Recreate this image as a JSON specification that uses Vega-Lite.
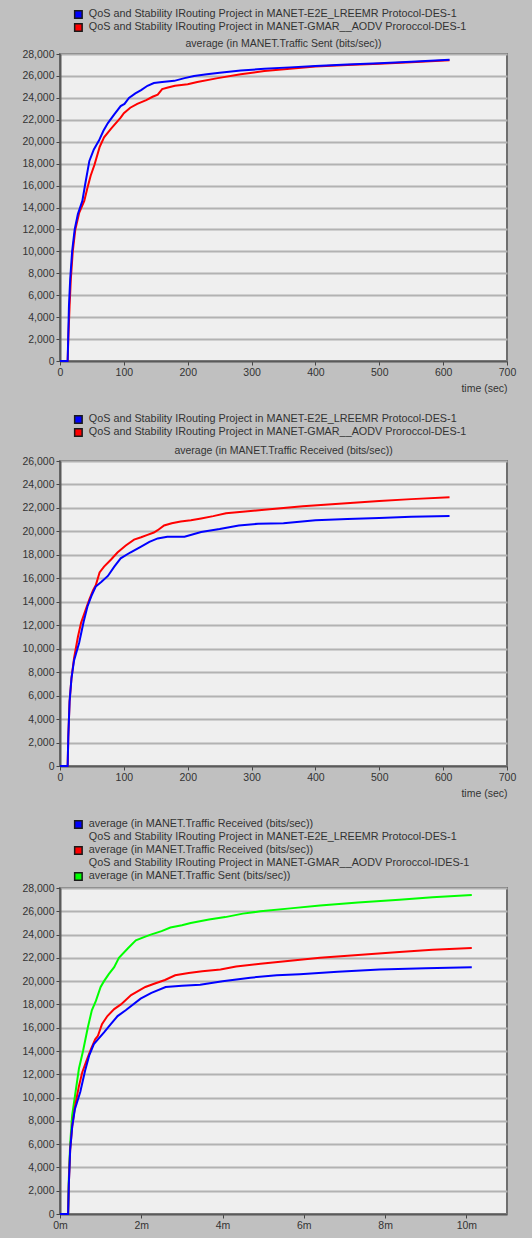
{
  "$schema": "https://vega.github.io/schema/vega-lite/v6.json",
  "background": "#c0c0c0",
  "padding": {"left": 20, "top": 8, "right": 18, "bottom": 6},
  "config": {
    "font": "Liberation Sans",
    "view": {"fill": "#efefef", "stroke": "#6e6e6e", "strokeWidth": 2},
    "axis": {"labelFont": "Liberation Sans", "labelFontSize": 10.5, "labelColor": "#333333", "tickColor": "#444444", "tickSize": 4, "labelPadding": 2, "domainColor": "#5a5a5a", "domainWidth": 2, "gridColor": "#b2b2b2", "gridWidth": 2, "titleFont": "Liberation Sans", "titleFontSize": 10.5, "titleFontWeight": "normal", "titleColor": "#333333", "labelFlush": false, "labelOverlap": false},
    "legend": {"labelFont": "Liberation Sans", "labelFontSize": 10.8, "labelColor": "#333333", "symbolSize": 56, "symbolType": "square", "labelLimit": 0, "rowPadding": -5.5, "labelOffset": 5},
    "title": {"font": "Liberation Sans", "fontSize": 10.5, "fontWeight": "normal", "color": "#333333", "frame": "group"},
    "concat": {"spacing": 18}
  },
  "datasets": {
    "sent": [
      {"s":"GMAR","t":0,"v":0},{"s":"GMAR","t":12,"v":0},{"s":"GMAR","t":13,"v":2000},{"s":"GMAR","t":15,"v":5000},{"s":"GMAR","t":17,"v":7500},{"s":"GMAR","t":20,"v":10000},{"s":"GMAR","t":24,"v":12000},{"s":"GMAR","t":30,"v":13500},{"s":"GMAR","t":38,"v":14600},{"s":"GMAR","t":43,"v":15800},{"s":"GMAR","t":48,"v":16900},{"s":"GMAR","t":54,"v":17900},{"s":"GMAR","t":62,"v":19500},{"s":"GMAR","t":69,"v":20400},{"s":"GMAR","t":80,"v":21200},{"s":"GMAR","t":95,"v":22200},{"s":"GMAR","t":100,"v":22600},{"s":"GMAR","t":110,"v":23100},{"s":"GMAR","t":121,"v":23450},{"s":"GMAR","t":135,"v":23800},{"s":"GMAR","t":145,"v":24100},{"s":"GMAR","t":153,"v":24300},{"s":"GMAR","t":160,"v":24800},{"s":"GMAR","t":169,"v":24950},{"s":"GMAR","t":180,"v":25100},{"s":"GMAR","t":200,"v":25250},{"s":"GMAR","t":215,"v":25450},{"s":"GMAR","t":247,"v":25800},{"s":"GMAR","t":283,"v":26150},{"s":"GMAR","t":320,"v":26450},{"s":"GMAR","t":360,"v":26650},{"s":"GMAR","t":400,"v":26850},{"s":"GMAR","t":450,"v":27000},{"s":"GMAR","t":500,"v":27100},{"s":"GMAR","t":550,"v":27250},{"s":"GMAR","t":610,"v":27430},
      {"s":"E2E","t":0,"v":0},{"s":"E2E","t":12,"v":0},{"s":"E2E","t":13,"v":2500},{"s":"E2E","t":14,"v":5000},{"s":"E2E","t":16,"v":7500},{"s":"E2E","t":19,"v":10000},{"s":"E2E","t":23,"v":12000},{"s":"E2E","t":28,"v":13400},{"s":"E2E","t":35,"v":14600},{"s":"E2E","t":40,"v":16300},{"s":"E2E","t":46,"v":18250},{"s":"E2E","t":53,"v":19300},{"s":"E2E","t":61,"v":20100},{"s":"E2E","t":68,"v":21000},{"s":"E2E","t":75,"v":21700},{"s":"E2E","t":85,"v":22500},{"s":"E2E","t":95,"v":23250},{"s":"E2E","t":101,"v":23450},{"s":"E2E","t":108,"v":24000},{"s":"E2E","t":118,"v":24400},{"s":"E2E","t":127,"v":24700},{"s":"E2E","t":137,"v":25100},{"s":"E2E","t":147,"v":25350},{"s":"E2E","t":160,"v":25450},{"s":"E2E","t":179,"v":25550},{"s":"E2E","t":195,"v":25800},{"s":"E2E","t":210,"v":26000},{"s":"E2E","t":230,"v":26150},{"s":"E2E","t":250,"v":26300},{"s":"E2E","t":283,"v":26500},{"s":"E2E","t":320,"v":26650},{"s":"E2E","t":360,"v":26780},{"s":"E2E","t":400,"v":26900},{"s":"E2E","t":450,"v":27050},{"s":"E2E","t":500,"v":27150},{"s":"E2E","t":550,"v":27300},{"s":"E2E","t":610,"v":27480}
    ],
    "recv": [
      {"s":"GMAR","t":0,"v":0},{"s":"GMAR","t":12,"v":0},{"s":"GMAR","t":13,"v":2500},{"s":"GMAR","t":15,"v":5500},{"s":"GMAR","t":18,"v":7500},{"s":"GMAR","t":22,"v":9200},{"s":"GMAR","t":28,"v":11000},{"s":"GMAR","t":33,"v":12200},{"s":"GMAR","t":40,"v":13300},{"s":"GMAR","t":46,"v":14200},{"s":"GMAR","t":52,"v":15000},{"s":"GMAR","t":56,"v":15400},{"s":"GMAR","t":62,"v":16500},{"s":"GMAR","t":69,"v":17000},{"s":"GMAR","t":80,"v":17600},{"s":"GMAR","t":90,"v":18200},{"s":"GMAR","t":103,"v":18800},{"s":"GMAR","t":116,"v":19300},{"s":"GMAR","t":127,"v":19500},{"s":"GMAR","t":137,"v":19700},{"s":"GMAR","t":147,"v":19900},{"s":"GMAR","t":153,"v":20100},{"s":"GMAR","t":163,"v":20500},{"s":"GMAR","t":175,"v":20700},{"s":"GMAR","t":189,"v":20850},{"s":"GMAR","t":205,"v":20950},{"s":"GMAR","t":221,"v":21100},{"s":"GMAR","t":240,"v":21300},{"s":"GMAR","t":260,"v":21550},{"s":"GMAR","t":290,"v":21700},{"s":"GMAR","t":320,"v":21850},{"s":"GMAR","t":350,"v":22000},{"s":"GMAR","t":380,"v":22150},{"s":"GMAR","t":420,"v":22300},{"s":"GMAR","t":460,"v":22450},{"s":"GMAR","t":500,"v":22600},{"s":"GMAR","t":550,"v":22750},{"s":"GMAR","t":610,"v":22900},
      {"s":"E2E","t":0,"v":0},{"s":"E2E","t":12,"v":0},{"s":"E2E","t":13,"v":2500},{"s":"E2E","t":15,"v":5500},{"s":"E2E","t":18,"v":7500},{"s":"E2E","t":22,"v":9000},{"s":"E2E","t":30,"v":10500},{"s":"E2E","t":37,"v":12300},{"s":"E2E","t":43,"v":13600},{"s":"E2E","t":50,"v":14600},{"s":"E2E","t":56,"v":15300},{"s":"E2E","t":65,"v":15700},{"s":"E2E","t":75,"v":16200},{"s":"E2E","t":85,"v":17000},{"s":"E2E","t":95,"v":17700},{"s":"E2E","t":110,"v":18200},{"s":"E2E","t":127,"v":18700},{"s":"E2E","t":140,"v":19100},{"s":"E2E","t":153,"v":19400},{"s":"E2E","t":168,"v":19550},{"s":"E2E","t":195,"v":19550},{"s":"E2E","t":221,"v":19950},{"s":"E2E","t":250,"v":20200},{"s":"E2E","t":280,"v":20500},{"s":"E2E","t":310,"v":20650},{"s":"E2E","t":350,"v":20700},{"s":"E2E","t":400,"v":20950},{"s":"E2E","t":450,"v":21050},{"s":"E2E","t":500,"v":21150},{"s":"E2E","t":550,"v":21250},{"s":"E2E","t":610,"v":21320}
    ],
    "all": [
      {"s":"tx","t":0,"v":0},{"s":"tx","t":12,"v":0},{"s":"tx","t":13,"v":3000},{"s":"tx","t":15,"v":6000},{"s":"tx","t":18,"v":8500},{"s":"tx","t":23,"v":10500},{"s":"tx","t":28,"v":12500},{"s":"tx","t":34,"v":14000},{"s":"tx","t":41,"v":16000},{"s":"tx","t":47,"v":17500},{"s":"tx","t":53,"v":18300},{"s":"tx","t":60,"v":19500},{"s":"tx","t":65,"v":20000},{"s":"tx","t":72,"v":20600},{"s":"tx","t":80,"v":21200},{"s":"tx","t":87,"v":22000},{"s":"tx","t":100,"v":22800},{"s":"tx","t":112,"v":23500},{"s":"tx","t":125,"v":23800},{"s":"tx","t":134,"v":24000},{"s":"tx","t":150,"v":24300},{"s":"tx","t":163,"v":24600},{"s":"tx","t":180,"v":24800},{"s":"tx","t":193,"v":25000},{"s":"tx","t":220,"v":25300},{"s":"tx","t":244,"v":25500},{"s":"tx","t":270,"v":25800},{"s":"tx","t":296,"v":26000},{"s":"tx","t":340,"v":26250},{"s":"tx","t":384,"v":26500},{"s":"tx","t":440,"v":26750},{"s":"tx","t":501,"v":27000},{"s":"tx","t":550,"v":27200},{"s":"tx","t":608,"v":27400},
      {"s":"rx_gmar","t":0,"v":0},{"s":"rx_gmar","t":12,"v":0},{"s":"rx_gmar","t":13,"v":2500},{"s":"rx_gmar","t":15,"v":5500},{"s":"rx_gmar","t":18,"v":7500},{"s":"rx_gmar","t":22,"v":9200},{"s":"rx_gmar","t":28,"v":11000},{"s":"rx_gmar","t":33,"v":12200},{"s":"rx_gmar","t":40,"v":13300},{"s":"rx_gmar","t":46,"v":14200},{"s":"rx_gmar","t":52,"v":15000},{"s":"rx_gmar","t":56,"v":15300},{"s":"rx_gmar","t":62,"v":16300},{"s":"rx_gmar","t":70,"v":17000},{"s":"rx_gmar","t":80,"v":17600},{"s":"rx_gmar","t":90,"v":18000},{"s":"rx_gmar","t":105,"v":18800},{"s":"rx_gmar","t":126,"v":19500},{"s":"rx_gmar","t":140,"v":19800},{"s":"rx_gmar","t":155,"v":20100},{"s":"rx_gmar","t":170,"v":20500},{"s":"rx_gmar","t":190,"v":20700},{"s":"rx_gmar","t":210,"v":20850},{"s":"rx_gmar","t":237,"v":21000},{"s":"rx_gmar","t":260,"v":21250},{"s":"rx_gmar","t":296,"v":21500},{"s":"rx_gmar","t":340,"v":21750},{"s":"rx_gmar","t":384,"v":22000},{"s":"rx_gmar","t":440,"v":22250},{"s":"rx_gmar","t":501,"v":22500},{"s":"rx_gmar","t":550,"v":22700},{"s":"rx_gmar","t":608,"v":22850},
      {"s":"rx_e2e","t":0,"v":0},{"s":"rx_e2e","t":12,"v":0},{"s":"rx_e2e","t":13,"v":2500},{"s":"rx_e2e","t":15,"v":5500},{"s":"rx_e2e","t":18,"v":7500},{"s":"rx_e2e","t":22,"v":9000},{"s":"rx_e2e","t":30,"v":10500},{"s":"rx_e2e","t":37,"v":12300},{"s":"rx_e2e","t":43,"v":13600},{"s":"rx_e2e","t":50,"v":14600},{"s":"rx_e2e","t":56,"v":15000},{"s":"rx_e2e","t":65,"v":15600},{"s":"rx_e2e","t":75,"v":16300},{"s":"rx_e2e","t":85,"v":17000},{"s":"rx_e2e","t":97,"v":17500},{"s":"rx_e2e","t":119,"v":18500},{"s":"rx_e2e","t":135,"v":19000},{"s":"rx_e2e","t":156,"v":19500},{"s":"rx_e2e","t":180,"v":19600},{"s":"rx_e2e","t":207,"v":19700},{"s":"rx_e2e","t":240,"v":20000},{"s":"rx_e2e","t":281,"v":20300},{"s":"rx_e2e","t":320,"v":20500},{"s":"rx_e2e","t":354,"v":20600},{"s":"rx_e2e","t":410,"v":20800},{"s":"rx_e2e","t":472,"v":21000},{"s":"rx_e2e","t":540,"v":21100},{"s":"rx_e2e","t":608,"v":21200}
    ]
  },
  "resolve": {"scale": {"color": "independent", "stroke": "independent", "x": "independent", "y": "independent"}, "legend": {"color": "independent", "stroke": "independent"}},
  "vconcat": [
    {
      "width": 447, "height": 307,
      "title": {"text": "average (in MANET.Traffic Sent (bits/sec))", "anchor": "middle", "offset": -40},
      "data": {"name": "sent"},
      "encoding": {
        "x": {"field": "t", "type": "quantitative", "scale": {"domain": [0, 700], "nice": false}, "axis": {"values": [0,100,200,300,400,500,600,700], "grid": false, "title": "time (sec)", "titleAnchor": "end", "titlePadding": 6}},
        "y": {"field": "v", "type": "quantitative", "scale": {"domain": [0, 28000], "nice": false}, "axis": {"values": [0,2000,4000,6000,8000,10000,12000,14000,16000,18000,20000,22000,24000,26000,28000], "format": ",d", "title": null}}
      },
      "resolve": {"legend": {"color": "independent"}},
      "layer": [
        {"mark": {"type": "line", "strokeWidth": 2}, "encoding": {"color": {"field": "s", "type": "nominal", "scale": {"domain": ["E2E", "GMAR"], "range": ["#0000ff", "#ff0000"]}, "legend": null}}},
        {"transform": [{"filter": {"field": "t", "lt": -1}}], "mark": {"type": "point", "shape": "square", "filled": true, "opacity": 1, "stroke": "#1a1a1a", "strokeWidth": 1},
         "encoding": {"color": {"field": "s", "type": "nominal", "scale": {"domain": ["E2E", "GMAR"], "range": ["#0000ff", "#ff0000"]},
           "legend": {"orient": "none", "legendX": 13, "legendY": -45, "title": null, "direction": "vertical", "labelExpr": "datum.value == 'E2E' ? 'QoS and Stability IRouting Project in MANET-E2E_LREEMR Protocol-DES-1' : 'QoS and Stability IRouting Project in MANET-GMAR__AODV Proroccol-DES-1'"}}}}
      ]
    },
    {
      "width": 447, "height": 305,
      "title": {"text": "average (in MANET.Traffic Received (bits/sec))", "anchor": "middle", "offset": -42},
      "data": {"name": "recv"},
      "encoding": {
        "x": {"field": "t", "type": "quantitative", "scale": {"domain": [0, 700], "nice": false}, "axis": {"values": [0,100,200,300,400,500,600,700], "grid": false, "title": "time (sec)", "titleAnchor": "end", "titlePadding": 6}},
        "y": {"field": "v", "type": "quantitative", "scale": {"domain": [0, 26000], "nice": false}, "axis": {"values": [0,2000,4000,6000,8000,10000,12000,14000,16000,18000,20000,22000,24000,26000], "format": ",d", "title": null}}
      },
      "resolve": {"legend": {"color": "independent"}},
      "layer": [
        {"mark": {"type": "line", "strokeWidth": 2}, "encoding": {"color": {"field": "s", "type": "nominal", "scale": {"domain": ["E2E", "GMAR"], "range": ["#0000ff", "#ff0000"]}, "legend": null}}},
        {"transform": [{"filter": {"field": "t", "lt": -1}}], "mark": {"type": "point", "shape": "square", "filled": true, "opacity": 1, "stroke": "#1a1a1a", "strokeWidth": 1},
         "encoding": {"color": {"field": "s", "type": "nominal", "scale": {"domain": ["E2E", "GMAR"], "range": ["#0000ff", "#ff0000"]},
           "legend": {"orient": "none", "legendX": 13, "legendY": -47, "title": null, "direction": "vertical", "labelExpr": "datum.value == 'E2E' ? 'QoS and Stability IRouting Project in MANET-E2E_LREEMR Protocol-DES-1' : 'QoS and Stability IRouting Project in MANET-GMAR__AODV Proroccol-DES-1'"}}}}
      ]
    },
    {
      "width": 447, "height": 326,
      "data": {"name": "all"},
      "encoding": {
        "x": {"field": "t", "type": "quantitative", "scale": {"domain": [0, 660], "nice": false}, "axis": {"values": [0,120,240,360,480,600], "grid": false, "title": null, "labelExpr": "(datum.value / 60) + 'm'"}},
        "y": {"field": "v", "type": "quantitative", "scale": {"domain": [0, 28000], "nice": false}, "axis": {"values": [0,2000,4000,6000,8000,10000,12000,14000,16000,18000,20000,22000,24000,26000,28000], "format": ",d", "title": null}}
      },
      "resolve": {"legend": {"color": "independent", "stroke": "independent"}},
      "layer": [
        {"mark": {"type": "line", "strokeWidth": 2}, "encoding": {"color": {"field": "s", "type": "nominal", "scale": {"domain": ["rx_e2e", "n_e2e", "rx_gmar", "n_gmar", "tx"], "range": ["#0000ff", "transparent", "#ff0000", "transparent", "#00ff00"]}, "legend": null}}},
        {"transform": [{"filter": {"field": "t", "lt": -1}}], "mark": {"type": "point", "shape": "square", "filled": true, "opacity": 1, "strokeWidth": 1},
         "encoding": {
           "color": {"field": "s", "type": "nominal", "scale": {"domain": ["rx_e2e", "n_e2e", "rx_gmar", "n_gmar", "tx"], "range": ["#0000ff", "transparent", "#ff0000", "transparent", "#00ff00"]},
             "legend": {"orient": "none", "legendX": 13, "legendY": -69, "rowPadding": -4.3, "title": null, "direction": "vertical", "labelExpr": "datum.value == 'rx_e2e' || datum.value == 'rx_gmar' ? 'average (in MANET.Traffic Received (bits/sec))' : datum.value == 'n_e2e' ? 'QoS and Stability IRouting Project in MANET-E2E_LREEMR Protocol-DES-1' : datum.value == 'n_gmar' ? 'QoS and Stability IRouting Project in MANET-GMAR__AODV Proroccol-IDES-1' : 'average (in MANET.Traffic Sent (bits/sec))'"}},
           "stroke": {"field": "s", "type": "nominal", "scale": {"domain": ["rx_e2e", "n_e2e", "rx_gmar", "n_gmar", "tx"], "range": ["#1a1a1a", "transparent", "#1a1a1a", "transparent", "#1a1a1a"]},
             "legend": {"orient": "none", "legendX": 13, "legendY": -69, "rowPadding": -4.3, "title": null, "direction": "vertical", "labelExpr": "datum.value == 'rx_e2e' || datum.value == 'rx_gmar' ? 'average (in MANET.Traffic Received (bits/sec))' : datum.value == 'n_e2e' ? 'QoS and Stability IRouting Project in MANET-E2E_LREEMR Protocol-DES-1' : datum.value == 'n_gmar' ? 'QoS and Stability IRouting Project in MANET-GMAR__AODV Proroccol-IDES-1' : 'average (in MANET.Traffic Sent (bits/sec))'"}}
         }}
      ]
    }
  ]
}
